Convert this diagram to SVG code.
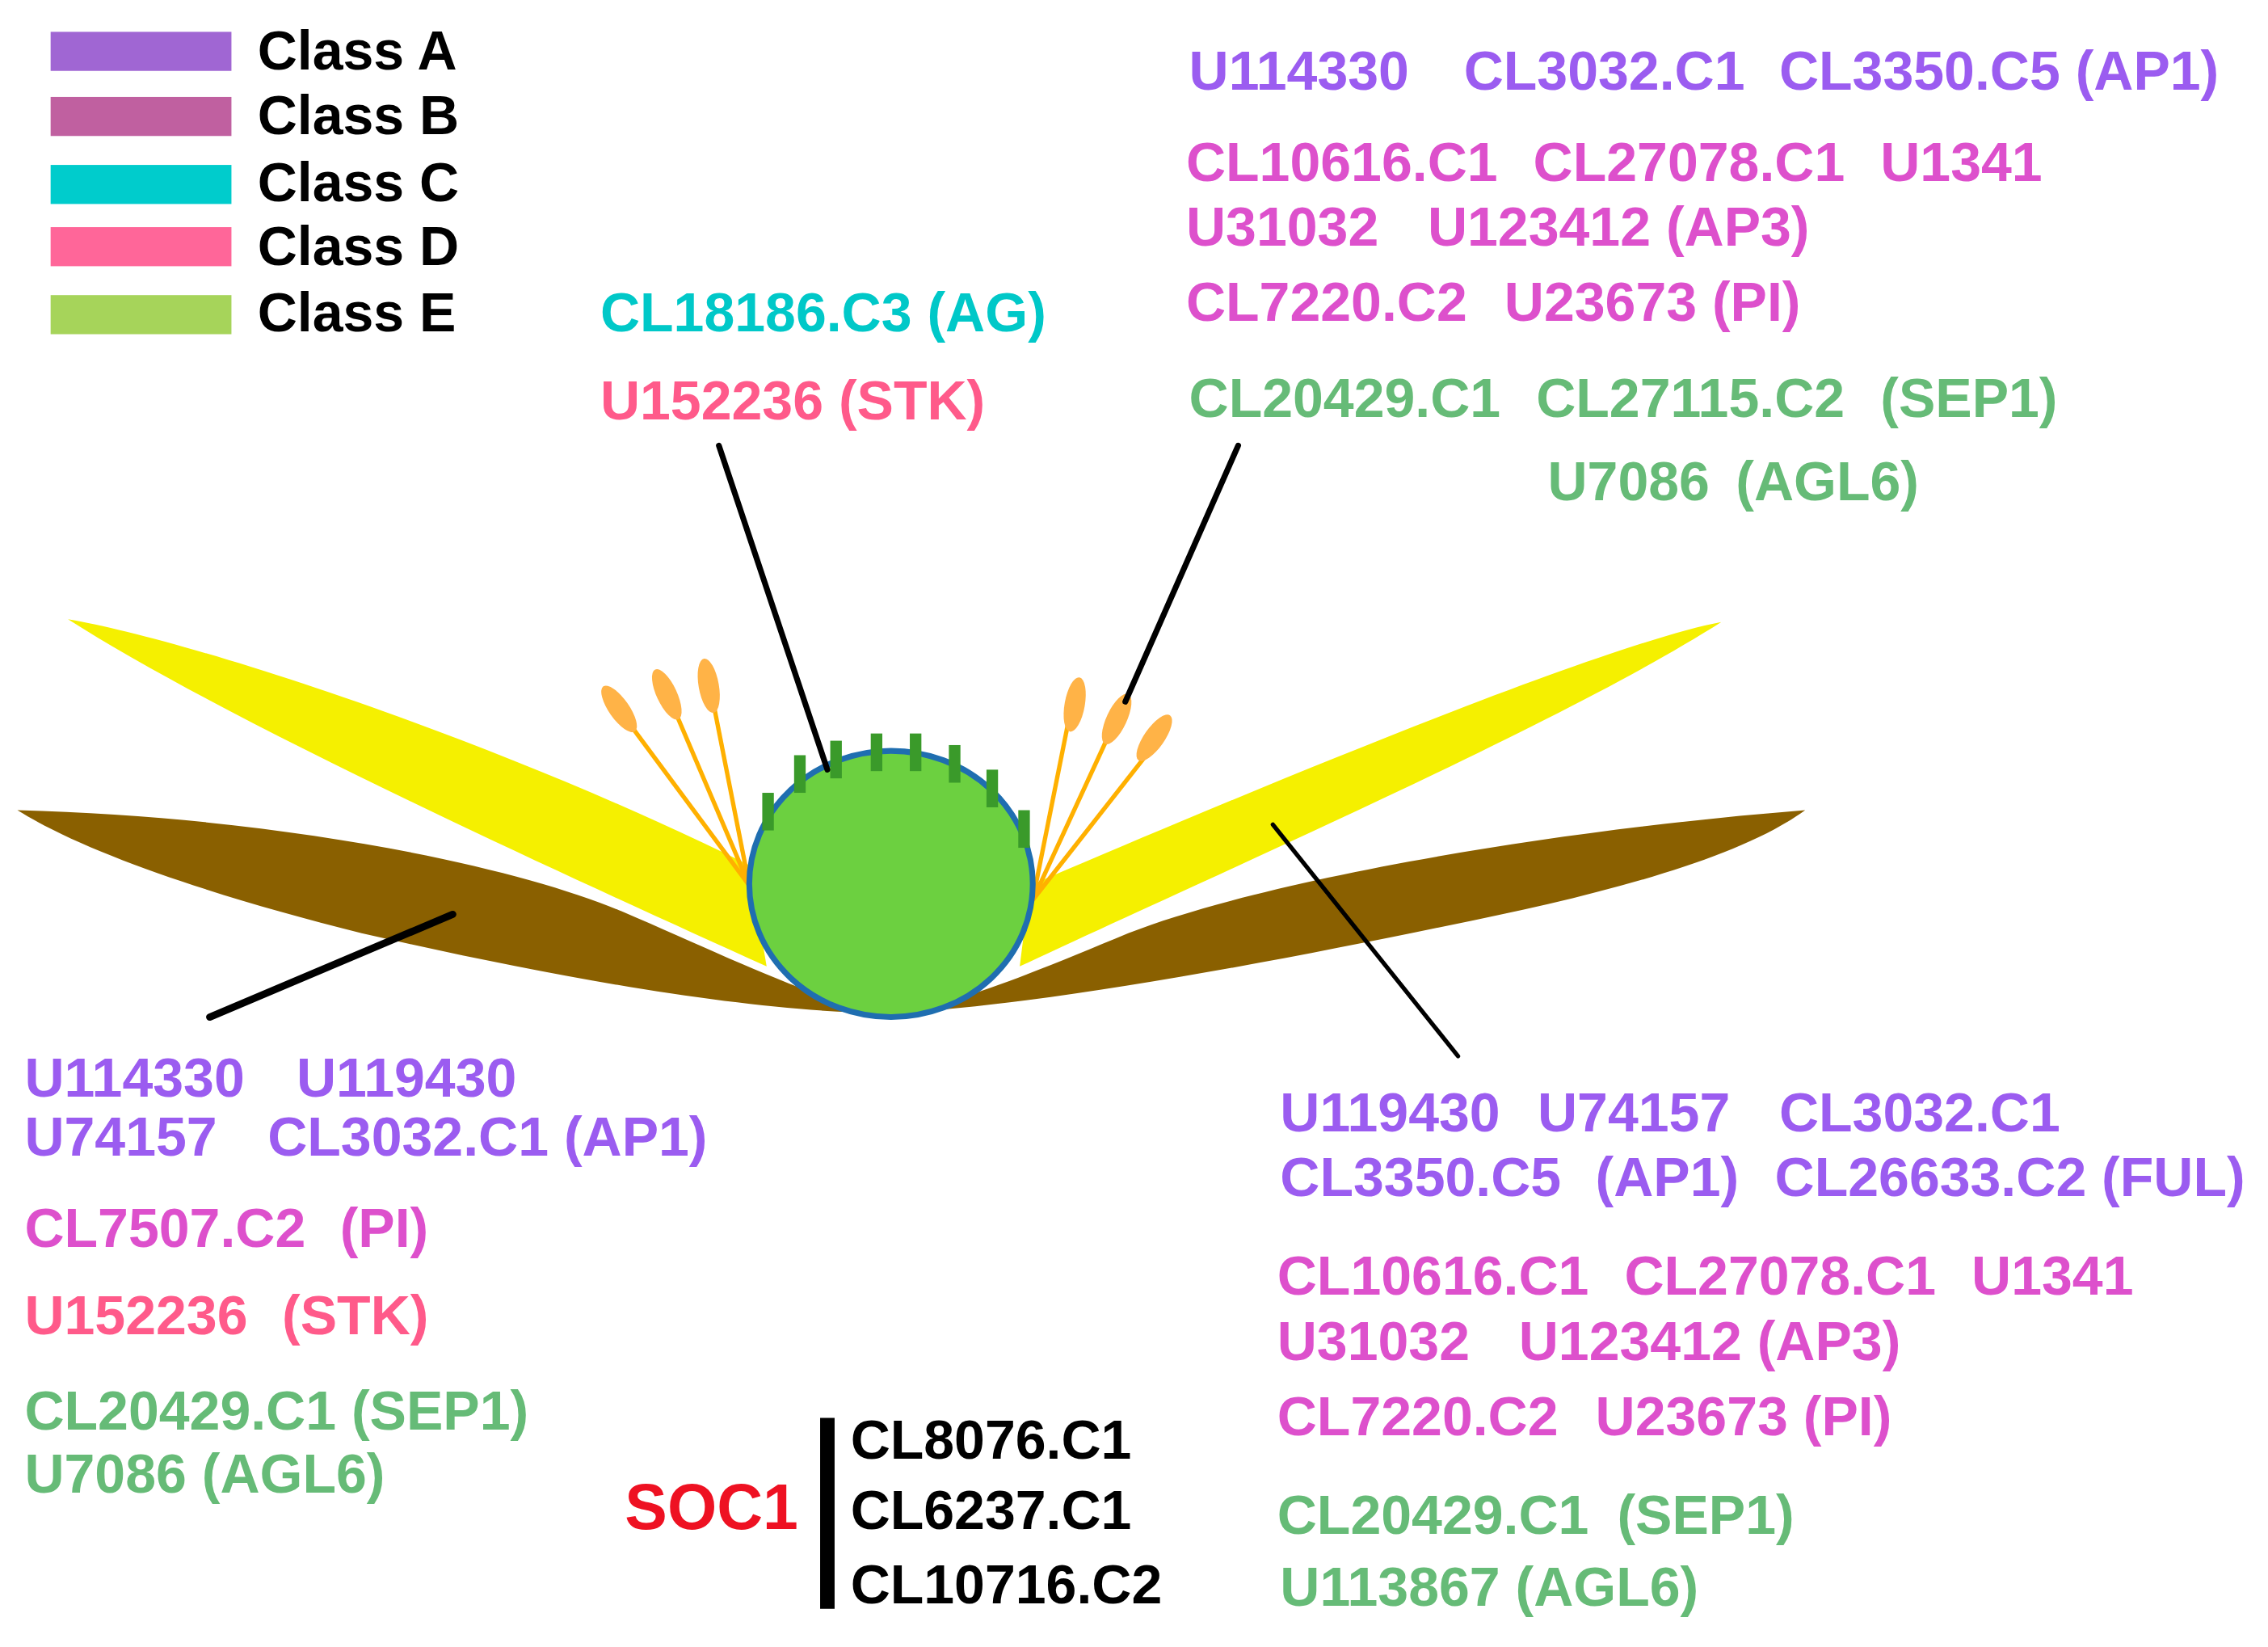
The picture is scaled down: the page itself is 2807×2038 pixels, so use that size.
<svg xmlns="http://www.w3.org/2000/svg" width="2807" height="2038" viewBox="0 0 2807 2038">
<style>
text{font-family:"Liberation Sans",Arial,sans-serif;font-weight:bold;font-size:38px;white-space:pre}
.a{fill:#9b5cf0}.b{fill:#dd50cc}.c{fill:#00c8c8}.d{fill:#ff5a8a}.e{fill:#66bb77}.k{fill:#000}
.ln{stroke:#000;fill:none;stroke-linecap:round}
.st{stroke:#ffb000;stroke-width:3;fill:none}
.an{fill:#ffb347}
.tk{fill:#3a9a2a}
</style>
<rect width="2807" height="2038" fill="#fff"/>
<g transform="scale(1.7902)">
<g id="legend">
<rect x="35" y="22" width="125" height="27" fill="#a066d3"/>
<rect x="35" y="67" width="125" height="27" fill="#c060a0"/>
<rect x="35" y="114" width="125" height="27" fill="#00cccc"/>
<rect x="35" y="157" width="125" height="27" fill="#ff6699"/>
<rect x="35" y="204" width="125" height="27" fill="#a6d45a"/>
<text x="178" y="48" class="k">Class A</text>
<text x="178" y="93" class="k">Class B</text>
<text x="178" y="139" class="k">Class C</text>
<text x="178" y="183" class="k">Class D</text>
<text x="178" y="229" class="k">Class E</text>
</g>
<g id="flower">
<path d="M12,560 C200,565 360,600 430,630 C500,660 560,690 610,700 C520,700 380,675 250,645 C150,620 60,590 12,560 Z" fill="#8a6000"/>
<path d="M1248,560 C1060,575 870,610 780,645 C720,670 660,695 620,700 C720,695 880,665 1000,640 C1100,620 1200,595 1248,560 Z" fill="#8a6000"/>
<path d="M47,428 C120,440 330,505 518,598 L530,668 C380,600 160,500 47,428 Z" fill="#f5f000"/>
<path d="M1190,430 C1110,445 880,540 712,612 L705,668 C850,600 1080,500 1190,430 Z" fill="#f5f000"/>
<g id="stamens">
<line class="st" x1="518" y1="612" x2="435" y2="500"/>
<line class="st" x1="518" y1="612" x2="466" y2="490"/>
<line class="st" x1="518" y1="612" x2="492" y2="480"/>
<line class="st" x1="714" y1="622" x2="740" y2="492"/>
<line class="st" x1="714" y1="622" x2="768" y2="505"/>
<line class="st" x1="714" y1="622" x2="794" y2="520"/>
<ellipse class="an" cx="428" cy="490" rx="7" ry="19" transform="rotate(-35 428 490)"/>
<ellipse class="an" cx="461" cy="480" rx="7" ry="19" transform="rotate(-25 461 480)"/>
<ellipse class="an" cx="490" cy="474" rx="7" ry="19" transform="rotate(-10 490 474)"/>
<ellipse class="an" cx="743" cy="487" rx="7" ry="19" transform="rotate(10 743 487)"/>
<ellipse class="an" cx="772" cy="497" rx="7" ry="19" transform="rotate(25 772 497)"/>
<ellipse class="an" cx="798" cy="510" rx="7" ry="19" transform="rotate(35 798 510)"/>
</g>
<ellipse id="ovary" cx="616" cy="611" rx="98" ry="92" fill="#6cd040" stroke="#1f6eb0" stroke-width="4"/>
<g id="stigma">
<rect class="tk" x="527" y="548" width="8" height="26"/>
<rect class="tk" x="549" y="522" width="8" height="26"/>
<rect class="tk" x="574" y="512" width="8" height="26"/>
<rect class="tk" x="602" y="507" width="8" height="26"/>
<rect class="tk" x="629" y="507" width="8" height="26"/>
<rect class="tk" x="656" y="515" width="8" height="26"/>
<rect class="tk" x="682" y="532" width="8" height="26"/>
<rect class="tk" x="704" y="560" width="8" height="26"/>
</g>
</g>
<g id="connectors">
<line class="ln" x1="497" y1="308" x2="572" y2="532" stroke-width="4"/>
<line class="ln" x1="856" y1="308" x2="778" y2="485" stroke-width="4"/>
<line class="ln" x1="313" y1="632" x2="145" y2="703" stroke-width="5"/>
<line class="ln" x1="880" y1="570" x2="1008" y2="730" stroke-width="3"/>
<line x1="572" y1="980" x2="572" y2="1112" stroke="#000" stroke-width="10"/>
</g>
<g id="top-labels">
<text y="62" class="a"><tspan x="822">U114330</tspan><tspan x="1012">CL3032.C1</tspan><tspan x="1230">CL3350.C5 (AP1)</tspan></text>
<text y="125" class="b"><tspan x="820">CL10616.C1</tspan><tspan x="1060">CL27078.C1</tspan><tspan x="1300">U1341</tspan></text>
<text y="170" class="b"><tspan x="820">U31032</tspan><tspan x="987">U123412 (AP3)</tspan></text>
<text y="222" class="b"><tspan x="820">CL7220.C2</tspan><tspan x="1040">U23673 (PI)</tspan></text>
<text y="288" class="e"><tspan x="822">CL20429.C1</tspan><tspan x="1062">CL27115.C2</tspan><tspan x="1300">(SEP1)</tspan></text>
<text y="346" class="e"><tspan x="1070">U7086</tspan><tspan x="1200">(AGL6)</tspan></text>
<text x="415" y="229" class="c">CL18186.C3 (AG)</text>
<text x="415" y="290" class="d">U152236 (STK)</text>
</g>
<g id="left-labels">
<text y="758" class="a"><tspan x="17">U114330</tspan><tspan x="205">U119430</tspan></text>
<text y="799" class="a"><tspan x="17">U74157</tspan><tspan x="185">CL3032.C1 (AP1)</tspan></text>
<text y="862" class="b"><tspan x="17">CL7507.C2</tspan><tspan x="235">(PI)</tspan></text>
<text y="922" class="d"><tspan x="17">U152236</tspan><tspan x="195">(STK)</tspan></text>
<text x="17" y="988" class="e">CL20429.C1 (SEP1)</text>
<text x="17" y="1032" class="e">U7086 (AGL6)</text>
</g>
<g id="right-labels">
<text y="782" class="a"><tspan x="885">U119430</tspan><tspan x="1063">U74157</tspan><tspan x="1230">CL3032.C1</tspan></text>
<text y="827" class="a"><tspan x="885">CL3350.C5</tspan><tspan x="1103">(AP1)</tspan><tspan x="1227">CL26633.C2 (FUL)</tspan></text>
<text y="895" class="b"><tspan x="883">CL10616.C1</tspan><tspan x="1123">CL27078.C1</tspan><tspan x="1363">U1341</tspan></text>
<text y="940" class="b"><tspan x="883">U31032</tspan><tspan x="1050">U123412 (AP3)</tspan></text>
<text y="992" class="b"><tspan x="883">CL7220.C2</tspan><tspan x="1103">U23673 (PI)</tspan></text>
<text y="1060" class="e"><tspan x="883">CL20429.C1</tspan><tspan x="1118">(SEP1)</tspan></text>
<text x="885" y="1110" class="e">U113867 (AGL6)</text>
</g>
<g id="soc1">
<text x="432" y="1057" style="font-size:44px;fill:#ee1122">SOC1</text>
<text x="588" y="1008" class="k">CL8076.C1</text>
<text x="588" y="1057" class="k">CL6237.C1</text>
<text x="588" y="1108" class="k">CL10716.C2</text>
</g>
</g>
</svg>
